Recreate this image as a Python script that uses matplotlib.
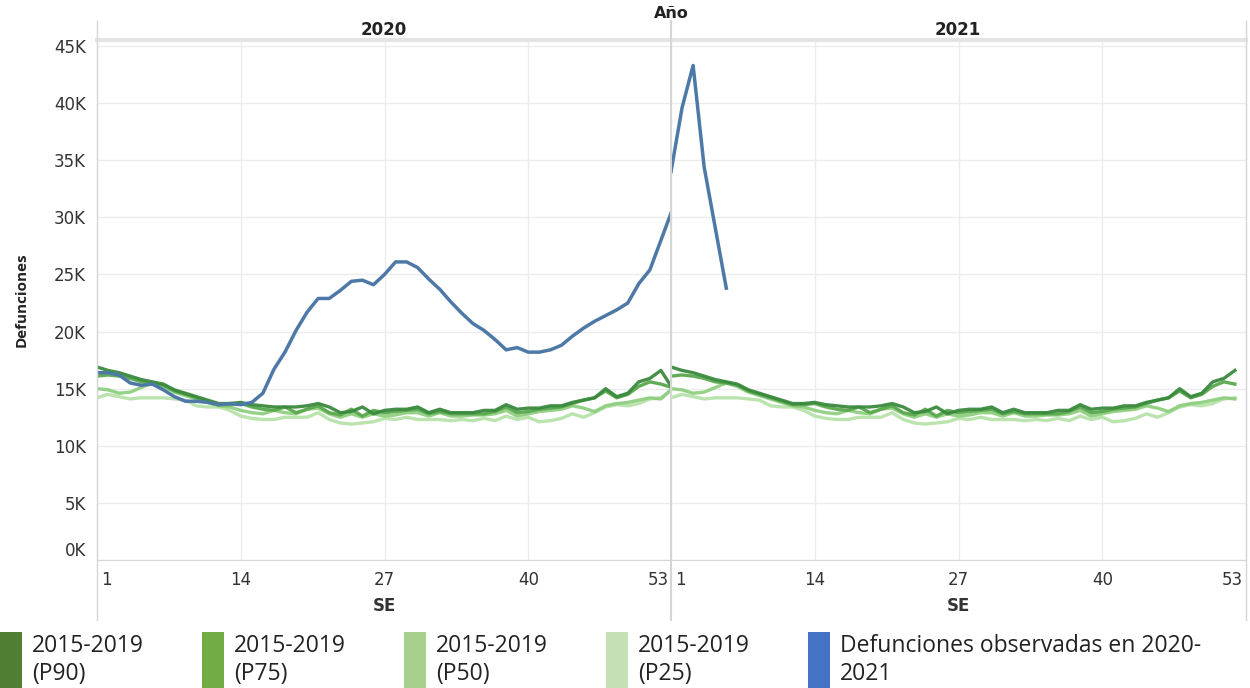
import numpy as np
import matplotlib
matplotlib.use("Agg")
import matplotlib.pyplot as plt
from matplotlib import font_manager
from matplotlib.lines import Line2D
from matplotlib.patches import Rectangle
from matplotlib.ticker import FuncFormatter
from matplotlib.transforms import ScaledTranslation

# semanas epidemiologicas
weeks_2020 = np.arange(1, 54)
weeks_2021 = np.arange(1, 53)
weeks_obs_2021 = np.arange(1, 7)

# percentiles 2015-2019 (miles de defunciones)
p90 = [16.9, 16.6, 16.4, 16.1, 15.8, 15.6, 15.4, 14.9, 14.6, 14.3, 14.0, 13.7, 13.7, 13.8,
       13.6, 13.5, 13.4, 13.4, 13.4, 13.5, 13.7, 13.4, 12.9, 13.0, 13.4, 12.8, 13.1,
       13.2, 13.2, 13.4, 12.9, 13.2, 12.9, 12.9, 12.9, 13.1, 13.1, 13.6, 13.2, 13.3,
       13.3, 13.5, 13.5, 13.8, 14.0, 14.2, 15.0, 14.3, 14.6, 15.6, 15.9, 16.6, 15.1]
p75 = [16.1, 16.2, 16.1, 15.9, 15.6, 15.5, 15.3, 14.8, 14.5, 14.2, 13.9, 13.6, 13.6, 13.7,
       13.4, 13.2, 13.1, 13.4, 12.9, 13.2, 13.5, 12.9, 12.7, 13.2, 12.6, 13.1, 12.9,
       13.0, 13.1, 13.2, 12.8, 13.0, 12.8, 12.8, 12.8, 12.8, 13.0, 13.4, 12.9, 13.0,
       13.2, 13.3, 13.4, 13.7, 14.0, 14.2, 14.8, 14.2, 14.5, 15.2, 15.6, 15.4, 15.1]
p50 = [15.0, 14.9, 14.6, 14.7, 15.1, 15.5, 15.2, 14.7, 14.4, 14.1, 13.8, 13.5, 13.4, 13.1,
       12.9, 12.8, 13.1, 12.9, 12.8, 13.2, 13.3, 12.8, 12.5, 12.8, 12.5, 12.8, 12.6,
       12.7, 12.9, 12.9, 12.6, 12.9, 12.6, 12.6, 12.7, 12.7, 12.8, 13.1, 12.6, 12.8,
       13.0, 13.1, 13.2, 13.5, 13.3, 13.0, 13.5, 13.7, 13.8, 14.0, 14.2, 14.1, 15.0]
p25 = [14.2, 14.5, 14.3, 14.1, 14.2, 14.2, 14.2, 14.1, 14.0, 13.5, 13.4, 13.4, 13.1, 12.6,
       12.4, 12.3, 12.3, 12.5, 12.5, 12.5, 12.9, 12.3, 12.0, 11.9, 12.0, 12.1, 12.4,
       12.3, 12.5, 12.3, 12.3, 12.3, 12.2, 12.3, 12.2, 12.4, 12.2, 12.6, 12.3, 12.5,
       12.1, 12.2, 12.4, 12.8, 12.5, 12.9, 13.4, 13.6, 13.5, 13.7, 14.1, 14.2, 14.9]

# defunciones observadas
obs_2020 = [16.4, 16.4, 16.2, 15.5, 15.3, 15.4, 14.9, 14.3, 13.9, 13.9, 13.8, 13.6, 13.7, 13.6,
            13.8, 14.6, 16.7, 18.2, 20.1, 21.7, 22.9, 22.9, 23.6, 24.4, 24.5, 24.1, 25.0,
            26.1, 26.1, 25.6, 24.6, 23.7, 22.6, 21.6, 20.7, 20.1, 19.3, 18.4, 18.6, 18.2,
            18.2, 18.4, 18.8, 19.6, 20.3, 20.9, 21.4, 21.9, 22.5, 24.2, 25.4, 28.0, 30.6]
obs_2021 = [34.0, 39.6, 43.3, 34.4, 29.1, 23.8]

years = ["2020", "2021"]
x_ticks = [1, 14, 27, 40, 53]
y_ticks = np.arange(0, 45001, 5000)

labels = ["2015-2019\n(P90)", "2015-2019\n(P75)", "2015-2019\n(P50)", "2015-2019\n(P25)",
          "Defunciones observadas en 2020-\n2021"]
legend_colors = ["#4e7f33", "#72ad44", "#a8d08d", "#c5e0b4", "#4472c4"]
line_colors = ["#3a8a3e", "#5aa84f", "#8fcf80", "#b7e2aa"]
blue = "#4e79a7"

avail = set(f.name for f in font_manager.fontManager.ttflist)
text_font = "Open Sans" if "Open Sans" in avail else "DejaVu Sans"
plt.rcParams["font.family"] = ["DejaVu Sans"]

W, H = 1250, 688
fig = plt.figure(figsize=(12.5, 6.88), dpi=100)

def fx(px):
    return px / W

def fy(py):
    return 1 - py / H

grid_c = "#ececec"
edge_c = "#d6d6d6"
txt_c = "#333333"

axes = []
lefts = [97, 671]
for i, yr in enumerate(years):
    ax = fig.add_axes([fx(lefts[i]), fy(560), fx(575), 520 / H])
    axes.append(ax)
    ax.set_xlim(1, 53)
    ax.set_ylim(0, 45530)
    ax.set_yticks(y_ticks)
    ax.set_xticks(x_ticks)
    ax.grid(True, color=grid_c, lw=1)
    ax.set_axisbelow(True)
    for s in ["left", "right"]:
        ax.spines[s].set_visible(False)
    ax.spines["bottom"].set_color(edge_c)
    ax.spines["top"].set_color("#e4e4e4")
    ax.spines["top"].set_linewidth(3)
    ax.tick_params(length=0, labelsize=12, colors=txt_c, pad=8)
    ax.set_xlabel("SE", fontsize=12, fontweight="bold", color=txt_c, labelpad=6)
    if i == 0:
        ax.yaxis.set_major_formatter(FuncFormatter(lambda v, p: f"{v/1000:.0f}K"))
        ax.set_ylabel("Defunciones", fontsize=11, fontweight="bold", color="#222222",
                      labelpad=18, family=[text_font, "DejaVu Sans"])
        ax.get_yticklabels()[0].set_va("bottom")
    else:
        ax.set_yticklabels([])
    xl = ax.get_xticklabels()
    xl[0].set_ha("left")
    xl[0].set_transform(xl[0].get_transform() + ScaledTranslation(4 / 100, 0, fig.dpi_scale_trans))
    xl[-1].set_ha("right")
    xl[-1].set_transform(xl[-1].get_transform() + ScaledTranslation(-3 / 100, 0, fig.dpi_scale_trans))

ax1, ax2 = axes
pcts = [p90, p75, p50, p25]
for vals, c in zip(pcts[::-1], line_colors[::-1]):
    ax1.plot(weeks_2020, np.array(vals) * 1000, color=c, lw=2.4, alpha=0.95)
    ax2.plot(weeks_2021, np.array(vals[:52]) * 1000, color=c, lw=2.4, alpha=0.95)
ax1.plot(weeks_2020, np.array(obs_2020) * 1000, color=blue, lw=2.5)
ax2.plot(weeks_obs_2021, np.array(obs_2021) * 1000, color=blue, lw=2.5)

# cabecera
fig.text(fx(671), fy(13), "Año", ha="center", va="center", fontsize=11.5, fontweight="bold", color="#222222")
fig.text(fx(384), fy(30), years[0], ha="center", va="center", fontsize=12, fontweight="bold", color="#222222")
fig.text(fx(958), fy(30), years[1], ha="center", va="center", fontsize=12, fontweight="bold", color="#222222")
for px in [97, 671, 1246]:
    fig.add_artist(Line2D([fx(px), fx(px)], [fy(21), fy(620)], color=edge_c, lw=1.5 if px == 671 else 1))

# leyenda
for i, (lab, c) in enumerate(zip(labels, legend_colors)):
    x0 = i * 202
    fig.add_artist(Rectangle((fx(x0), fy(688)), fx(22), 56 / H, color=c, lw=0))
    fig.text(fx(x0 + 32), fy(634), lab, ha="left", va="top", fontsize=16.5,
             family=[text_font, "DejaVu Sans"], color="#222222", linespacing=1.2)

fig.savefig("out.png", dpi=100)
